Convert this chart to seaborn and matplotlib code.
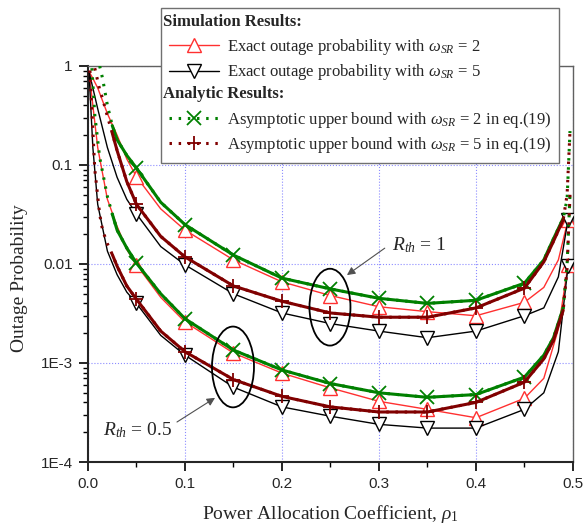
import numpy as np
import pandas as pd
import matplotlib
matplotlib.use("Agg")
import matplotlib.pyplot as plt
import seaborn as sns
from matplotlib.patches import Ellipse
from matplotlib.ticker import LogLocator, MultipleLocator, NullFormatter
from matplotlib.legend_handler import HandlerBase
from matplotlib.text import Text

nan = np.nan

# power allocation coefficient rho_1 for the simulated (exact) curves
rho_exact = [0.001, 0.005, 0.01, 0.02, 0.03, 0.04, 0.05, 0.075, 0.1, 0.15, 0.2,
             0.25, 0.3, 0.35, 0.4, 0.45, 0.47, 0.485, 0.495]
# exact outage probability, R_th = 1
exact_w2_r1 = [0.88, 0.75, 0.6, 0.33, 0.2, 0.115, 0.076, 0.036, 0.022, 0.011, 0.0066,
               0.0048, 0.0037, 0.0033, 0.0030, 0.0041, 0.0058, 0.011, 0.028]
exact_w5_r1 = [0.88, 0.6, 0.37, 0.15, 0.075, 0.045, 0.032, 0.015, 0.0098, 0.005, 0.0032,
               0.0025, 0.0021, 0.0018, 0.0021, 0.0030, 0.0036, 0.0074, 0.028]
# exact outage probability, R_th = 0.5
exact_w2_r05 = [0.88, 0.4, 0.15, 0.045, 0.024, 0.014, 0.0098, 0.0046, 0.0026, 0.00126, 0.00079,
                0.00056, 0.00041, 0.00034, 0.00028, 0.00044, 0.0007, 0.0022, 0.0098]
exact_w5_r05 = [0.88, 0.15, 0.04, 0.0135, 0.0078, 0.0052, 0.0040, 0.0019, 0.0012, 0.00057, 0.00036,
                0.00029, 0.00024, 0.00022, 0.00022, 0.00034, 0.0005, 0.0013, 0.0095]

# rho_1 for the analytic (asymptotic upper bound) curves
rho_asym = [0.002, 0.004, 0.007, 0.012, 0.015, 0.02, 0.025, 0.03, 0.04, 0.05, 0.075, 0.1,
            0.15, 0.2, 0.25, 0.3, 0.35, 0.4, 0.45, 0.47, 0.48, 0.49, 0.494, 0.497]
asym_w2_r1 = [nan, nan, nan, 1.0, 0.75, 0.40, 0.25, 0.18, 0.125, 0.093, 0.042, 0.025,
              0.0123, 0.0072, 0.0056, 0.0045, 0.0040, 0.0043, 0.0064, 0.011, 0.018, 0.029, 0.045, 0.22]
asym_w5_r1 = [nan, nan, 0.95, 0.58, 0.47, 0.31, 0.21, 0.14, 0.068, 0.040, 0.019, 0.0118,
              0.0060, 0.0042, 0.0032, 0.0029, 0.0029, 0.0036, 0.0057, 0.0105, 0.017, 0.028, 0.05, 0.22]
asym_w2_r05 = [nan, 0.95, 0.32, 0.12, 0.085, 0.048, 0.032, 0.022, 0.0145, 0.0102, 0.005, 0.0028,
               0.00135, 0.00085, 0.00062, 0.0005, 0.00045, 0.00048, 0.00072, 0.0012, 0.0018, 0.0036, 0.0098, 0.05]
asym_w5_r05 = [0.9, 0.35, 0.09, 0.032, 0.022, 0.016, 0.0125, 0.0095, 0.006, 0.0044, 0.0021, 0.0013,
               0.00068, 0.00046, 0.00036, 0.00032, 0.00032, 0.0004, 0.00064, 0.0011, 0.0017, 0.0034, 0.009, 0.05]

sns.set_style("ticks")
plt.rcParams["font.family"] = ["Liberation Serif", "DejaVu Serif"]
plt.rcParams["mathtext.fontset"] = "custom"
plt.rcParams["mathtext.rm"] = "Liberation Serif"
plt.rcParams["mathtext.it"] = "Liberation Serif:italic"

fig = plt.figure(figsize=(5.84, 5.30), dpi=100)
ax = fig.add_axes([0.1507, 0.1283, 0.8303, 0.7472])
ax.set_yscale("log")

RED, BLACK, GREEN, DRED = "#ff3030", "#000000", "#008000", "#800000"


def mark_idx(x, last=False):
    x = np.asarray(x)
    k = np.round(x / 0.05)
    idx = [i for i in range(len(x)) if abs(x[i] - k[i] * 0.05) < 1e-9 and 0.04 < x[i] < 0.46]
    if last:
        idx.append(len(x) - 1)
    return idx


def draw_exact(y, color, marker, label):
    d = pd.DataFrame({"rho": rho_exact, "p": y}).dropna().reset_index(drop=True)
    sns.lineplot(data=d, x="rho", y="p", ax=ax, color=color, lw=1, marker=marker,
                 markevery=mark_idx(d["rho"], last=True), ms=9.5, mfc="white", mec=color,
                 mew=1, sort=False, estimator=None, label=label, zorder=3)
    return ax.lines[-1]


def draw_asym(y, color, marker, label):
    d = pd.DataFrame({"rho": rho_asym, "p": y}).dropna().reset_index(drop=True)
    # dotted curve over the whole range (visible at the steep ends)
    sns.lineplot(data=d, x="rho", y="p", ax=ax, color=color, lw=2.2, ls=(0, (0.8, 2.2)),
                 marker=marker, markevery=mark_idx(d["rho"]), ms=10, mec=color, mew=1.3,
                 sort=False, estimator=None, label=label, zorder=4)
    h = ax.lines[-1]
    mid = d[(d["rho"] >= 0.025) & (d["rho"] <= 0.49)]
    sns.lineplot(data=mid, x="rho", y="p", ax=ax, color=color, lw=2.2, sort=False,
                 estimator=None, zorder=4)
    return h


h_e2 = draw_exact(exact_w2_r1, RED, "^", "e2")
draw_exact(exact_w2_r05, RED, "^", None)
h_e5 = draw_exact(exact_w5_r1, BLACK, "v", "e5")
draw_exact(exact_w5_r05, BLACK, "v", None)
h_a2 = draw_asym(asym_w2_r1, GREEN, "x", "a2")
draw_asym(asym_w2_r05, GREEN, "x", None)
h_a5 = draw_asym(asym_w5_r1, DRED, "+", "a5")
draw_asym(asym_w5_r05, DRED, "+", None)

ax.set_xlim(0, 0.5)
ax.set_ylim(1e-4, 1)
ax.set_xticks([0, 0.1, 0.2, 0.3, 0.4, 0.5], ["0.0", "0.1", "0.2", "0.3", "0.4", "0.5"])
ax.set_yticks([1e-4, 1e-3, 1e-2, 1e-1, 1], ["1E-4", "1E-3", "0.01", "0.1", "1"])
ax.xaxis.set_minor_locator(MultipleLocator(0.05))
ax.yaxis.set_minor_locator(LogLocator(base=10, subs=np.arange(2, 10), numticks=20))
ax.yaxis.set_minor_formatter(NullFormatter())
ax.tick_params(which="both", direction="out", top=False, right=False, color="black")
ax.tick_params(which="major", length=6.5, width=1.2, labelsize=11, pad=4.5)
ax.tick_params(which="minor", length=3.6, width=1)
for lab in ax.get_xticklabels() + ax.get_yticklabels():
    lab.set_family("Liberation Sans")
ax.grid(True, which="major", color="#8c8cff", ls=":", lw=0.8)
for s in ["left", "bottom"]:
    ax.spines[s].set_linewidth(1.5)
for s in ["top", "right"]:
    ax.spines[s].set_linewidth(1.0)
    ax.spines[s].set_color("#606060")

ax.set_xlabel(r"Power Allocation Coefficient, $\rho_1$", fontsize=14)
ax.set_ylabel("Outage Probability", fontsize=14)
ax.xaxis.set_label_coords(0.499, -0.1035)
ax.yaxis.set_label_coords(-0.124, 0.465)

# ellipses grouping the curves of each rate threshold
ax.add_patch(Ellipse((0.499, 0.391), 0.0845, 0.194, transform=ax.transAxes,
                     fill=False, ec="black", lw=1.3, zorder=6))
ax.add_patch(Ellipse((0.299, 0.240), 0.0866, 0.204, transform=ax.transAxes,
                     fill=False, ec="black", lw=1.3, zorder=6))
arrow = dict(arrowstyle="-|>", color="#505050", lw=0.8, mutation_scale=12, shrinkA=0, shrinkB=0)
ax.annotate("", xy=(0.534, 0.472), xytext=(0.612, 0.540), xycoords="axes fraction",
            arrowprops=arrow)
ax.text(0.627, 0.548, r"$R_{th}$ = 1", transform=ax.transAxes, fontsize=14,
        ha="left", va="center")
ax.annotate("", xy=(0.262, 0.162), xytext=(0.1835, 0.101), xycoords="axes fraction",
            arrowprops=arrow)
ax.text(0.173, 0.081, r"$R_{th}$ = 0.5", transform=ax.transAxes, fontsize=14,
        ha="right", va="center")


class Header:
    def __init__(self, text):
        self.text = text


class HeaderHandler(HandlerBase):
    def create_artists(self, legend, orig_handle, xdescent, ydescent, width, height,
                       fontsize, trans):
        t = Text(-xdescent - 4, height / 2 - ydescent, orig_handle.text, fontsize=fontsize,
                 fontweight="bold", family="Liberation Serif", va="center", ha="left",
                 transform=trans)
        return [t]


handles = [Header("Simulation Results:"), h_e2, h_e5, Header("Analytic Results:"), h_a2, h_a5]
labels = ["", r"Exact outage probability with $\omega_{SR}$ = 2",
          r"Exact outage probability with $\omega_{SR}$ = 5", "",
          r"Asymptotic upper bound with $\omega_{SR}$ = 2 in eq.(19)",
          r"Asymptotic upper bound with $\omega_{SR}$ = 5 in eq.(19)"]
leg = ax.legend(handles, labels, handler_map={Header: HeaderHandler()}, loc="upper right",
                bbox_to_anchor=(559 / 584, 1 - 8 / 530), bbox_transform=fig.transFigure,
                fancybox=False, edgecolor="#707070", framealpha=1, borderpad=0.45,
                handlelength=3.0, handletextpad=0.5, labelspacing=0.33, borderaxespad=0,
                prop={"family": "Liberation Serif", "size": 12})
leg.get_frame().set_linewidth(1.0)
leg.set_zorder(10)

fig.savefig("out.png", dpi=100)
